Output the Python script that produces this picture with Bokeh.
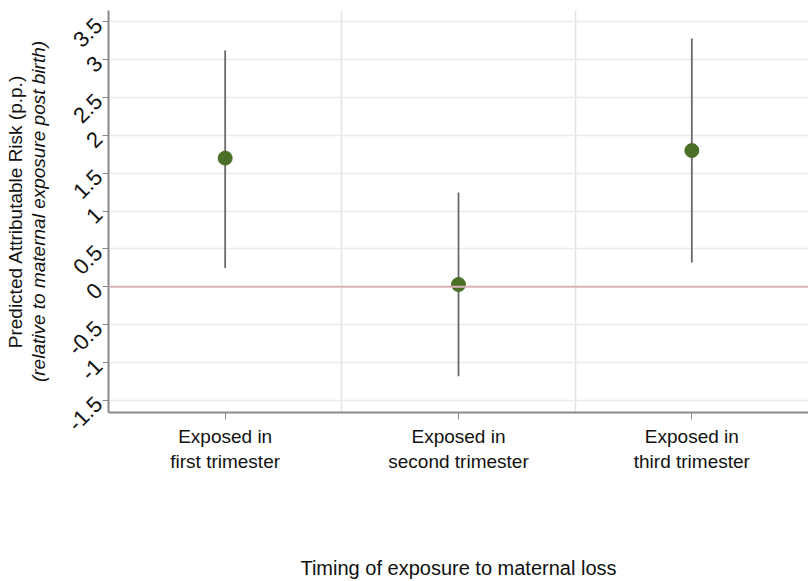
from bokeh.plotting import figure
from bokeh.models import FixedTicker, Span, Title, Range1d, ColumnDataSource
from bokeh.embed import file_html
from bokeh.resources import INLINE
import math

# ---- data ----
categories = ["Exposed in\nfirst trimester", "Exposed in\nsecond trimester", "Exposed in\nthird trimester"]
estimate = [1.70, 0.03, 1.80]
ci_low = [0.25, -1.18, 0.32]
ci_high = [3.12, 1.245, 3.28]
y_ticks = [-1.5, -1, -0.5, 0, 0.5, 1, 1.5, 2, 2.5, 3, 3.5]
y_tick_labels = ["-1.5", "-1", "-0.5", "0", "0.5", "1", "1.5", "2", "2.5", "3", "3.5"]

FONT = "Liberation Sans"
xpos = [i + 1 for i in range(len(categories))]
src = ColumnDataSource(dict(x=xpos, est=estimate, lo=ci_low, hi=ci_high))

p = figure(width=808, height=581, output_backend="svg", toolbar_location=None,
           x_range=Range1d(0.5, len(categories) + 0.5), y_range=Range1d(-1.66, 3.65),
           min_border_left=108, min_border_right=0, min_border_top=10, min_border_bottom=168)
p.outline_line_color = None
p.background_fill_color = "white"

# grids
p.ygrid.ticker = FixedTicker(ticks=y_ticks)
p.ygrid.grid_line_color = "#ebebeb"
p.ygrid.grid_line_width = 1.5
p.xgrid.ticker = FixedTicker(ticks=[x + 0.5 for x in xpos])
p.xgrid.grid_line_color = "#e3e3e3"
p.xgrid.grid_line_width = 1.5

# zero reference line
p.add_layout(Span(location=0, dimension="width", line_color="#d9b3b8", line_width=2))

# error bars and points
p.segment(x0="x", y0="lo", x1="x", y1="hi", source=src, line_color="#6a6a6a", line_width=1.8)
p.scatter(x="x", y="est", source=src, size=14, fill_color="#4c6f28", line_color="#4c6f28")

# x axis
xa = p.xaxis[0]
xa.ticker = FixedTicker(ticks=xpos)
xa.major_label_overrides = {x: c for x, c in zip(xpos, categories)}
xa.major_label_text_font = FONT
xa.major_label_text_font_size = "19px"
xa.major_label_text_color = "#111111"
xa.major_label_standoff = 6
xa.minor_tick_line_color = None
xa.major_tick_out = 7
xa.major_tick_in = 0
xa.major_tick_line_color = "#888888"
xa.axis_line_color = "#8a8a8a"
xa.axis_line_width = 2
xa.axis_label = "Timing of exposure to maternal loss"
xa.axis_label_text_font = FONT
xa.axis_label_text_font_style = "normal"
xa.axis_label_text_font_size = "20px"
xa.axis_label_text_color = "#111111"
xa.axis_label_standoff = 82

# y axis
ya = p.yaxis[0]
ya.ticker = FixedTicker(ticks=y_ticks)
ya.major_label_overrides = {t: l for t, l in zip(y_ticks, y_tick_labels)}
ya.major_label_orientation = math.pi / 4
ya.major_label_text_font = FONT
ya.major_label_text_font_size = "22px"
ya.major_label_text_color = "#111111"
ya.major_label_standoff = 4
ya.minor_tick_line_color = None
ya.major_tick_out = 6
ya.major_tick_in = 0
ya.major_tick_line_color = "#888888"
ya.axis_line_color = "#8a8a8a"
ya.axis_line_width = 2
ya.axis_label = "(relative to maternal exposure post birth)"
ya.axis_label_text_font = FONT
ya.axis_label_text_font_style = "italic"
ya.axis_label_text_font_size = "19px"
ya.axis_label_text_color = "#111111"
ya.axis_label_standoff = 9

p.add_layout(Title(text="Predicted Attributable Risk (p.p.)", align="center",
                   text_font=FONT, text_font_style="normal", text_font_size="19px",
                   text_color="#111111", standoff=0, offset=0), "left")

open("out.html", "w").write(file_html(p, INLINE))
